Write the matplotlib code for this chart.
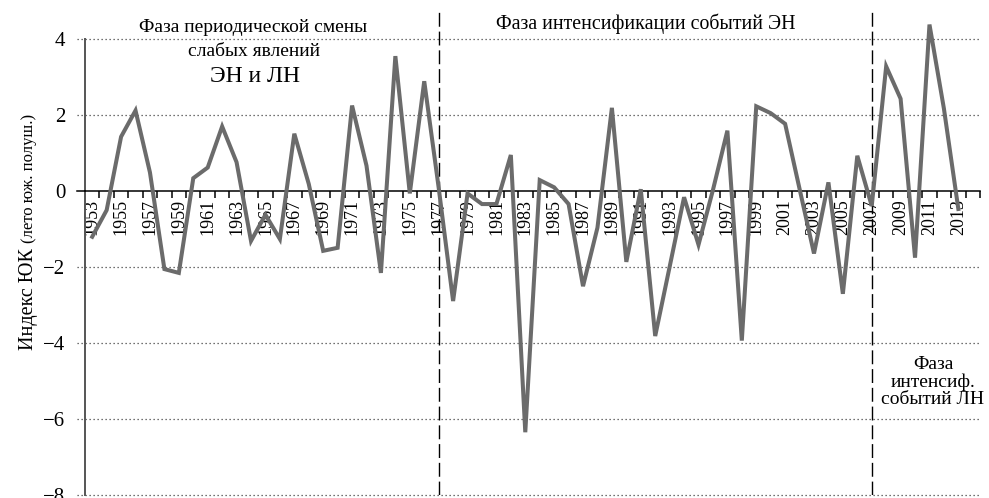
import numpy as np
import matplotlib.pyplot as plt
import matplotlib.transforms as mtransforms

plt.rcParams['font.family'] = ['Liberation Serif', 'DejaVu Serif']

years = list(range(1953, 2014))
index_yuk = [
    -1.21, -0.51, 1.42, 2.11, 0.48, -2.06, -2.16, 0.33, 0.61, 1.69,
    0.75, -1.32, -0.63, -1.27, 1.50, 0.18, -1.58, -1.50, 2.24, 0.66,
    -2.16, 3.54, -0.07, 2.88, 0.08, -2.90, -0.07, -0.35, -0.35, 0.94,
    -6.35, 0.28, 0.09, -0.35, -2.51, -0.97, 2.18, -1.87, 0.04, -3.82,
    -2.00, -0.17, -1.42, 0.02, 1.58, -3.94, 2.22, 2.04, 1.76, 0.05,
    -1.65, 0.22, -2.71, 0.92, -0.40, 3.27, 2.42, -1.76, 4.37, 2.16,
    -0.48,
]
phase_bounds = [1977, 2007]
yticks = [4, 2, 0, -2, -4, -6, -8]
year_labels = list(range(1953, 2014, 2))

fig = plt.figure(figsize=(9.89, 4.98), dpi=100)
ax = fig.add_axes([85 / 989, 3 / 498, 895 / 989, 483 / 498])

ax.set_xlim(1952.5, 2014.5)
ax.set_ylim(-8, 4.7)

# dotted grid, slightly sticking out left of the axis
trans = mtransforms.blended_transform_factory(ax.transAxes, ax.transData)
for y in yticks:
    if y == 0:
        continue
    ax.plot([-0.009, 1.0], [y, y], transform=trans, color='#444444',
            lw=0.9, ls=(0, (1, 2.2)), clip_on=False, zorder=1)
ax.plot([-0.009, 0.0], [0, 0], transform=trans, color='black', lw=1.1,
        clip_on=False, zorder=3)

for xb in phase_bounds:
    ax.axvline(xb, color='black', lw=1.0, ls=(0, (10, 3.5)), zorder=2)

ax.plot(years, index_yuk, color='#6b6b6b', lw=2.9, solid_joinstyle='miter',
        clip_on=False, zorder=4)

for s in ['top', 'right']:
    ax.spines[s].set_visible(False)
ax.spines['bottom'].set_position(('data', 0))
ax.spines['bottom'].set_linewidth(1.1)
ax.spines['bottom'].set_zorder(3)
ax.spines['left'].set_bounds(-8, 4)
ax.spines['left'].set_color('#555555')
ax.spines['left'].set_linewidth(1.4)

ax.set_yticks(yticks)
ax.set_yticklabels([str(v).replace('-', '\u2212') for v in yticks], fontsize=15)
ax.tick_params(axis='y', length=0, pad=14)

ax.set_xticks(np.arange(1953.5, 2015, 1.0))
ax.set_xticklabels([])
ax.set_xticks(year_labels, minor=True)
ax.set_xticklabels([str(y) for y in year_labels], minor=True, rotation=90,
                   fontsize=13)
ax.tick_params(axis='x', which='major', direction='out', length=5, width=1.1)
ax.tick_params(axis='x', which='minor', length=0, pad=6)

# y label: big part + smaller parenthetical, placed one after another
lab1 = fig.text(33 / 989, 1 - 350 / 498, 'Индекс ЮК ', rotation=90,
                rotation_mode='anchor', ha='left', va='baseline', fontsize=14.5)
fig.canvas.draw()
bb = lab1.get_window_extent(fig.canvas.get_renderer())
fig.text(33 / 989, bb.y1 / fig.bbox.height, '(лето юж. полуш.)', rotation=90,
         rotation_mode='anchor', ha='left', va='baseline', fontsize=12)

fig.text(253 / 989, 1 - 27 / 498, 'Фаза периодической смены', ha='center',
         va='center', fontsize=14)
fig.text(254 / 989, 1 - 52 / 498, 'слабых явлений', ha='center',
         va='center', fontsize=14)
fig.text(255 / 989, 1 - 76 / 498, 'ЭН и ЛН', ha='center',
         va='center', fontsize=17)
fig.text(646 / 989, 1 - 24 / 498, 'Фаза интенсификации событий ЭН',
         ha='center', va='center', fontsize=14.3)
fig.text(933 / 989, 1 - 382 / 498, 'Фаза\nинтенсиф.\nсобытий ЛН',
         ha='center', va='center', fontsize=14, linespacing=1.0)

fig.savefig('out.png', dpi=100)
